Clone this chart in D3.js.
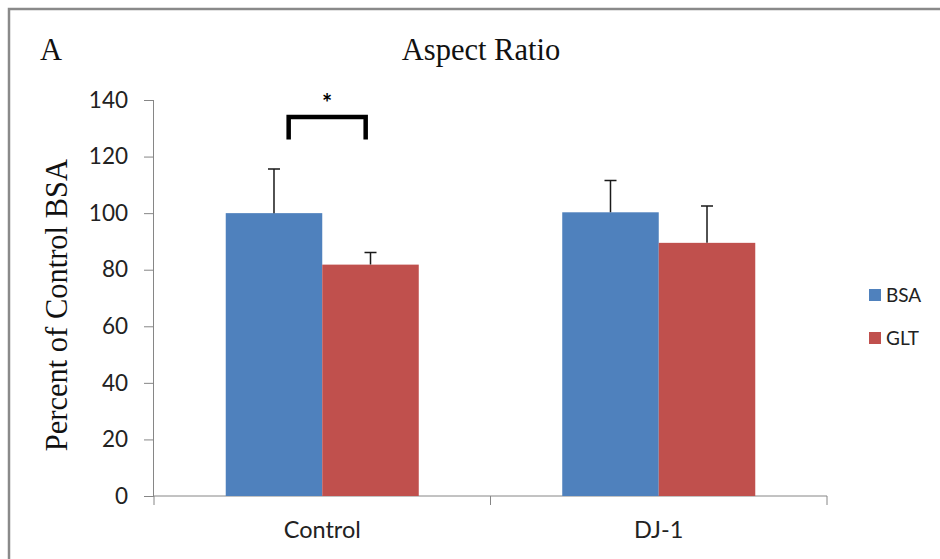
<!DOCTYPE html>
<html>
<head>
<meta charset="utf-8">
<script src="https://cdn.jsdelivr.net/npm/d3@7"></script>
<style>
  body { margin: 0; background: #fff; }
  svg { display: block; }
</style>
</head>
<body>
<div id="chart"></div>
<script>
const categories = ["Control", "DJ-1"];
const seriesNames = ["BSA", "GLT"];
const bsaValues = [100, 100.3];
const bsaErrors = [15.6, 11.2];
const gltValues = [81.8, 89.5];
const gltErrors = [4.3, 13.0];
const yTicks = [0, 20, 40, 60, 80, 100, 120, 140];
const colors = ["#4f81bd", "#c0504d"];

const width = 940, height = 559;
const margin = { left: 154, right: 113, top: 100, bottom: 63 };

const svg = d3.select("#chart").append("svg")
    .attr("width", width)
    .attr("height", height)
    .attr("viewBox", [0, 0, width, height]);

// outer frame
svg.append("rect")
    .attr("x", 9).attr("y", 9)
    .attr("width", width + 20).attr("height", height + 20)
    .attr("fill", "none")
    .attr("stroke", "#8a8a8a")
    .attr("stroke-width", 2.5);

const x0 = d3.scaleBand(categories, [margin.left, width - margin.right])
    .paddingInner(0.4264)
    .paddingOuter(0.2132);
const x1 = d3.scaleBand(seriesNames, [0, x0.bandwidth()]);
const y = d3.scaleLinear([0, 140], [height - margin.bottom, margin.top]);

const rows = categories.map((c, i) => ({
    cat: c,
    bars: [
        { key: "BSA", value: bsaValues[i], err: bsaErrors[i] },
        { key: "GLT", value: gltValues[i], err: gltErrors[i] }
    ]
}));

// y axis
const yAxis = svg.append("g")
    .attr("transform", `translate(${margin.left},0)`)
    .call(d3.axisLeft(y).tickValues(yTicks).tickSize(10).tickPadding(16));
yAxis.select(".domain").attr("stroke", "#868686").attr("d", `M-0.5,${y(140)}V${y(0)}`);
yAxis.selectAll(".tick line").attr("stroke", "#868686");
yAxis.selectAll(".tick text")
    .attr("font-family", "Lato, 'Open Sans', sans-serif")
    .attr("font-size", 22.5)
    .attr("fill", "#222");

// x axis
const xLine = svg.append("g").attr("transform", `translate(0,${y(0)})`);
xLine.append("line")
    .attr("x1", margin.left).attr("x2", width - margin.right)
    .attr("stroke", "#868686");
const bounds = [x0.range()[0], ...categories.slice(1).map(c => x0(c) - x0.step() * x0.paddingInner() / 2), x0.range()[1]];
xLine.selectAll(".ctick").data(bounds).join("line")
    .attr("x1", d => d).attr("x2", d => d)
    .attr("y1", 0).attr("y2", 9)
    .attr("stroke", "#868686");
xLine.selectAll(".clabel").data(categories).join("text")
    .attr("x", d => x0(d) + x0.bandwidth() / 2)
    .attr("y", 42)
    .attr("text-anchor", "middle")
    .attr("font-family", "Lato, 'Open Sans', sans-serif")
    .attr("font-size", 23.5)
    .attr("fill", "#222")
    .text(d => d);

// bars
const groups = svg.append("g").selectAll("g").data(rows).join("g")
    .attr("transform", d => `translate(${x0(d.cat)},0)`);

groups.selectAll("rect").data(d => d.bars).join("rect")
    .attr("x", d => x1(d.key))
    .attr("y", d => y(d.value))
    .attr("width", x1.bandwidth())
    .attr("height", d => y(0) - y(d.value))
    .attr("fill", (d, i) => colors[i]);

// error bars (upper only)
const capW = 12;
groups.selectAll("path.err").data(d => d.bars).join("path")
    .attr("class", "err")
    .attr("fill", "none")
    .attr("stroke", "#1a1a1a")
    .attr("stroke-width", 1.5)
    .attr("d", d => {
        const cx = x1(d.key) + x1.bandwidth() / 2;
        const top = y(d.value + d.err);
        return `M${cx},${y(d.value)}V${top}M${cx - capW / 2},${top}H${cx + capW / 2}`;
    });

// significance bracket
const bw = x0.bandwidth();
const bx1 = x0("Control") + bw * 0.326, bx2 = x0("Control") + bw * 0.725;
svg.append("path")
    .attr("fill", "none")
    .attr("stroke", "#000")
    .attr("stroke-width", 4.5)
    .attr("d", `M${bx1},${y(126)}V${y(134)}H${bx2}V${y(126)}`);
svg.append("text")
    .attr("x", (bx1 + bx2) / 2)
    .attr("y", y(134) - 5)
    .attr("text-anchor", "middle")
    .attr("font-family", "Lato, sans-serif")
    .attr("font-weight", "bold")
    .attr("font-size", 24)
    .text("*");

// title and panel letter
svg.append("text")
    .attr("x", 481).attr("y", 60)
    .attr("text-anchor", "middle")
    .attr("font-family", "'Liberation Serif', 'Times New Roman', serif")
    .attr("font-size", 30.5)
    .attr("fill", "#111")
    .text("Aspect Ratio");
svg.append("text")
    .attr("x", 40).attr("y", 60)
    .attr("font-family", "'Liberation Serif', 'Times New Roman', serif")
    .attr("font-size", 30.5)
    .attr("fill", "#111")
    .text("A");

// y label
svg.append("text")
    .attr("transform", `translate(67,${y(67.5)}) rotate(-90)`)
    .attr("text-anchor", "middle")
    .attr("font-family", "'Liberation Serif', 'Times New Roman', serif")
    .attr("font-size", 30.5)
    .attr("fill", "#111")
    .text("Percent of Control BSA");

// legend
const legend = svg.append("g").selectAll("g").data(seriesNames).join("g")
    .attr("transform", (d, i) => `translate(869,${289 + i * 43})`);
legend.append("rect")
    .attr("width", 12).attr("height", 12)
    .attr("fill", (d, i) => colors[i]);
legend.append("text")
    .attr("x", 17).attr("y", 12.5)
    .attr("font-family", "Lato, 'Open Sans', sans-serif")
    .attr("font-size", 19)
    .attr("fill", "#222")
    .text(d => d);
</script>
</body>
</html>
